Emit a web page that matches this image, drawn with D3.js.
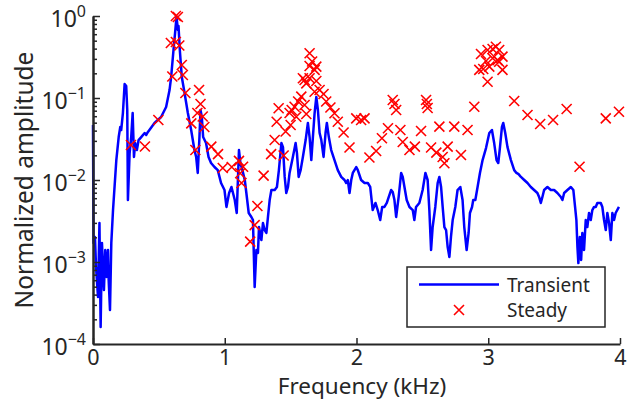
<!DOCTYPE html>
<html>
<head>
<meta charset="utf-8">
<script src="https://cdn.jsdelivr.net/npm/d3@7"></script>
<style>
  html, body { margin: 0; padding: 0; background: #fff; }
</style>
</head>
<body>
<div id="chart"></div>
<script>
// Transient spectrum  [frequency kHz, normalized amplitude]
var transient = [
  [0.000,0.0469],[0.004,0.00171],[0.015,0.00202],[0.023,0.000869],[0.038,0.000374],[0.049,0.00299],
  [0.058,0.000161],[0.068,0.00171],[0.083,0.000456],[0.093,0.0014],[0.104,0.000656],[0.114,0.0014],
  [0.119,0.0006],[0.129,0.00026],[0.139,0.00171],[0.152,0.0043],[0.177,0.0175],[0.195,0.0334],
  [0.207,0.0443],[0.214,0.0407],[0.227,0.0656],[0.240,0.148],[0.252,0.14],[0.260,0.0714],
  [0.265,0.0057],[0.278,0.0213],[0.290,0.0334],[0.301,0.0656],[0.311,0.0191],[0.320,0.0282],
  [0.333,0.0232],[0.346,0.0307],[0.366,0.0334],[0.392,0.0374],[0.404,0.0354],[0.417,0.0385],
  [0.467,0.0496],[0.517,0.0586],[0.555,0.0776],[0.581,0.125],[0.593,0.18],[0.611,0.385],
  [0.623,0.621],[0.634,0.98],[0.644,0.675],[0.649,0.755],[0.659,0.385],[0.674,0.18],
  [0.695,0.115],[0.720,0.0656],[0.745,0.0407],[0.770,0.0232],[0.783,0.0191],[0.795,0.0122],
  [0.808,0.0334],[0.816,0.0714],[0.826,0.0586],[0.836,0.0334],[0.858,0.0282],[0.877,0.0191],
  [0.896,0.0161],[0.922,0.0144],[0.947,0.0132],[0.972,0.00919],[0.998,0.00755],[1.013,0.00469],
  [1.033,0.00694],[1.051,0.00822],[1.076,0.0057],[1.091,0.00396],[1.108,0.0232],[1.119,0.0161],
  [1.134,0.0132],[1.152,0.01],[1.164,0.00694],[1.182,0.00396],[1.202,0.00354],[1.214,0.00325],
  [1.227,0.000496],[1.240,0.0014],[1.252,0.00129],[1.260,0.00267],[1.278,0.00185],[1.290,0.00299],
  [1.303,0.00245],[1.316,0.00226],[1.328,0.00354],[1.341,0.0057],[1.354,0.00755],[1.379,0.00755],
  [1.396,0.00822],[1.411,0.0132],[1.430,0.0282],[1.442,0.0252],[1.455,0.0109],[1.467,0.00694],
  [1.480,0.00822],[1.492,0.0122],[1.517,0.0191],[1.538,0.0282],[1.548,0.0213],[1.561,0.0109],
  [1.576,0.0132],[1.593,0.0191],[1.614,0.0307],[1.631,0.0496],[1.644,0.0334],[1.657,0.0175],
  [1.669,0.0334],[1.682,0.0656],[1.695,0.103],[1.707,0.0714],[1.720,0.0374],[1.733,0.0307],
  [1.750,0.0191],[1.765,0.0374],[1.775,0.0496],[1.790,0.0334],[1.808,0.0232],[1.833,0.0175],
  [1.858,0.0132],[1.884,0.0109],[1.909,0.01],[1.922,0.00919],[1.934,0.01],[1.947,0.00694],
  [1.960,0.01],[1.972,0.0122],[1.998,0.0144],[2.010,0.0132],[2.035,0.01],[2.061,0.00919],
  [2.086,0.00919],[2.104,0.00822],[2.123,0.0043],[2.144,0.00525],[2.161,0.0043],[2.180,0.00325],
  [2.195,0.00469],[2.212,0.00469],[2.230,0.00525],[2.245,0.00621],[2.263,0.00755],[2.275,0.00714],
  [2.288,0.0057],[2.301,0.00354],[2.320,0.00621],[2.339,0.0122],[2.351,0.0109],[2.364,0.00822],
  [2.381,0.0057],[2.402,0.00469],[2.427,0.0043],[2.439,0.00325],[2.452,0.00469],[2.477,0.00525],
  [2.502,0.00755],[2.523,0.0122],[2.540,0.01],[2.553,0.0043],[2.566,0.0014],[2.578,0.00267],
  [2.598,0.00469],[2.616,0.00919],[2.629,0.0109],[2.642,0.00822],[2.654,0.00469],[2.667,0.00267],
  [2.680,0.00245],[2.692,0.00152],[2.705,0.00115],[2.717,0.00202],[2.730,0.00325],[2.750,0.00469],
  [2.767,0.00755],[2.788,0.00822],[2.805,0.0057],[2.818,0.00267],[2.836,0.0014],[2.851,0.00226],
  [2.861,0.00396],[2.877,0.00469],[2.886,0.0057],[2.902,0.0057],[2.919,0.00822],[2.937,0.0122],
  [2.957,0.0175],[2.983,0.0245],[3.008,0.0374],[3.028,0.0407],[3.045,0.0282],[3.063,0.0175],
  [3.076,0.0161],[3.089,0.0252],[3.104,0.0443],[3.114,0.0496],[3.129,0.0374],[3.146,0.0252],
  [3.172,0.0175],[3.197,0.0132],[3.214,0.0122],[3.230,0.0118],[3.248,0.0109],[3.273,0.01],
  [3.298,0.00919],[3.323,0.00822],[3.348,0.00755],[3.373,0.00694],[3.386,0.00621],[3.399,0.00525],
  [3.411,0.00621],[3.424,0.00755],[3.449,0.00822],[3.475,0.00755],[3.500,0.00755],[3.525,0.00694],
  [3.551,0.00621],[3.563,0.0057],[3.576,0.00694],[3.601,0.00755],[3.627,0.00822],[3.646,0.00755],
  [3.659,0.00469],[3.669,0.00325],[3.677,0.00152],[3.684,0.00097],[3.695,0.00202],[3.705,0.00106],
  [3.714,0.00226],[3.727,0.0014],[3.740,0.00325],[3.752,0.00267],[3.765,0.00396],[3.778,0.00325],
  [3.790,0.0043],[3.803,0.00469],[3.816,0.00469],[3.828,0.00525],[3.854,0.00525],[3.866,0.00469],
  [3.879,0.00325],[3.892,0.00245],[3.904,0.00396],[3.917,0.00299],[3.930,0.00185],[3.942,0.00396],
  [3.955,0.00325],[3.967,0.00396],[3.992,0.00469]
];

// Steady-state points  [frequency kHz, normalized amplitude]
var steady = [
  [0.288,0.0267],[0.394,0.0256],[0.496,0.0539],[0.629,1.0],[0.644,0.972],[0.591,0.469],
  [0.629,0.482],[0.655,0.437],[0.674,0.253],[0.602,0.183],[0.682,0.191],[0.701,0.115],
  [0.805,0.125],[0.816,0.0845],[0.792,0.0656],[0.833,0.0595],[0.845,0.0443],[0.746,0.0491],
  [0.777,0.0232],[0.898,0.0255],[0.949,0.0207],[0.985,0.014],[1.053,0.0144],[1.108,0.0171],
  [1.139,0.0145],[1.117,0.0121],[1.127,0.00919],[1.248,0.00482],[1.227,0.00282],[1.193,0.00177],
  [1.295,0.0113],[1.352,0.0207],[1.379,0.0307],[1.394,0.0514],[1.409,0.0749],[1.447,0.0199],
  [1.462,0.039],[1.500,0.0469],[1.492,0.0656],[1.508,0.0714],[1.530,0.0783],[1.543,0.0591],
  [1.557,0.0906],[1.581,0.104],[1.606,0.166],[1.619,0.151],[1.593,0.174],[1.644,0.174],
  [1.644,0.246],[1.682,0.22],[1.695,0.161],[1.663,0.279],[1.644,0.351],[1.695,0.241],
  [1.619,0.0638],[1.606,0.0822],[1.682,0.119],[1.720,0.125],[1.750,0.112],[1.770,0.0906],
  [1.802,0.0766],[1.833,0.0651],[1.858,0.0514],[1.902,0.038],[1.947,0.0249],[1.998,0.0565],
  [2.035,0.0539],[2.061,0.0565],[2.098,0.0188],[2.149,0.0226],[2.193,0.0323],[2.239,0.0427],
  [2.275,0.0946],[2.288,0.0845],[2.301,0.0714],[2.333,0.0407],[2.351,0.0291],[2.402,0.0232],
  [2.443,0.0255],[2.490,0.0396],[2.528,0.0946],[2.534,0.0845],[2.540,0.0755],[2.566,0.0249],
  [2.606,0.0216],[2.629,0.0447],[2.654,0.0191],[2.667,0.016],[2.692,0.0255],[2.742,0.0447],
  [2.793,0.0202],[2.843,0.0407],[2.894,0.0783],[2.932,0.22],[2.945,0.344],[2.983,0.283],
  [2.995,0.385],[3.033,0.396],[3.058,0.422],[3.083,0.385],[3.033,0.305],[3.070,0.29],
  [3.083,0.277],[3.108,0.319],[3.008,0.241],[2.962,0.226],[3.108,0.22],[2.995,0.158],
  [3.197,0.0919],[3.298,0.062],[3.394,0.0482],[3.492,0.0539],[3.595,0.0734],[3.693,0.0145],
  [3.892,0.0565],[3.992,0.068]
];

var xTickValues = [0, 1, 2, 3, 4];
var yTickExponents = [-4, -3, -2, -1, 0];
var legendLabels = ['Transient', 'Steady'];
var xAxisTitle = 'Frequency (kHz)';
var yAxisTitle = 'Normalized amplitude';

d3.selection.prototype.patternify = function (params) {
    var container = this;
    var selector = params.selector;
    var data = params.data || [selector];
    var selection = container.selectAll('.' + selector).data(data);
    selection.exit().remove();
    selection = selection.enter().append(params.tag).merge(selection);
    selection.attr('class', selector);
    return selection;
};

function SpectrumChart() {
    var attrs = {
        svgWidth: 638,
        svgHeight: 405,
        marginTop: 16,
        marginLeft: 93,
        marginRight: 18,
        marginBottom: 61,
        container: '#chart',
        defaultFont: "'Noto Sans', 'DejaVu Sans', sans-serif",
        textFill: '#262626',
        axisColor: '#262626',
        lineColor: '#0000ff',
        markerColor: '#ff0000'
    };

    var main = function (selection) {
        selection.each(function scope() {
            var container = d3.select(this);

            var calc = {};
            calc.chartWidth = attrs.svgWidth - attrs.marginLeft - attrs.marginRight;
            calc.chartHeight = attrs.svgHeight - attrs.marginTop - attrs.marginBottom;

            /*##################################   SCALES  ####################################### */
            var x = d3.scaleLinear().domain([0, 4]).range([0, calc.chartWidth]);
            var y = d3.scaleLog().domain([1e-4, 1]).range([calc.chartHeight, 0]);

            var majorY = yTickExponents.map(e => Math.pow(10, e));
            var minorY = [];
            yTickExponents.slice(0, -1).forEach(e => {
                for (var k = 2; k < 10; k++) minorY.push(k * Math.pow(10, e));
            });

            var line = d3.line().x(d => x(d[0])).y(d => y(d[1]));

            //################################ DRAWING ######################
            var svg = container.patternify({ tag: 'svg', selector: 'svg-chart-container' })
                .attr('width', attrs.svgWidth)
                .attr('height', attrs.svgHeight)
                .attr('font-family', attrs.defaultFont)
                .style('background', '#fff');

            var chart = svg.patternify({ tag: 'g', selector: 'chart' })
                .attr('transform', 'translate(' + attrs.marginLeft + ',' + attrs.marginTop + ')');

            // data
            chart.patternify({ tag: 'path', selector: 'transient-line', data: [transient] })
                .attr('d', line)
                .attr('fill', 'none')
                .attr('stroke', attrs.lineColor)
                .attr('stroke-width', 2.5)
                .attr('stroke-linejoin', 'round');

            chart.patternify({ tag: 'path', selector: 'steady-mark', data: steady })
                .attr('transform', d => 'translate(' + x(d[0]) + ',' + y(d[1]) + ')')
                .attr('d', 'M-5,-5L5,5M-5,5L5,-5')
                .attr('fill', 'none')
                .attr('stroke', attrs.markerColor)
                .attr('stroke-width', 1.6);

            // axes
            var xAxis = d3.axisBottom(x)
                .tickValues(xTickValues)
                .tickFormat(d3.format('d'))
                .tickSize(-6)
                .tickSizeOuter(0)
                .tickPadding(6);
            var xAxisG = chart.patternify({ tag: 'g', selector: 'x-axis' })
                .attr('transform', 'translate(0,' + calc.chartHeight + ')')
                .call(xAxis);
            xAxisG.selectAll('text')
                .attr('font-size', 21.5)
                .attr('fill', attrs.textFill)
                .attr('font-family', attrs.defaultFont);

            chart.patternify({ tag: 'g', selector: 'y-minor' })
                .call(d3.axisLeft(y).tickValues(minorY).tickSize(-4).tickSizeOuter(0).tickFormat(''));
            chart.patternify({ tag: 'g', selector: 'y-axis' })
                .call(d3.axisLeft(y).tickValues(majorY).tickSize(-7).tickSizeOuter(0).tickFormat(''));

            chart.selectAll('.domain').attr('stroke', attrs.axisColor).attr('stroke-width', 2);
            chart.selectAll('.tick line').attr('stroke', attrs.axisColor).attr('stroke-width', 1.5);

            // y tick labels with superscript exponents
            var yLabels = chart.patternify({ tag: 'text', selector: 'y-tick-label', data: yTickExponents })
                .attr('x', -7)
                .attr('y', d => y(Math.pow(10, d)) + 11)
                .attr('text-anchor', 'end')
                .attr('fill', attrs.textFill)
                .attr('font-size', 23);
            yLabels.selectAll('tspan').remove();
            yLabels.append('tspan').text('10');
            yLabels.append('tspan')
                .attr('dy', -10)
                .attr('font-size', 16)
                .text(d => d < 0 ? '\u2212' + Math.abs(d) : String(d));

            // axis titles
            svg.patternify({ tag: 'text', selector: 'x-title' })
                .attr('x', 362)
                .attr('y', 394)
                .attr('text-anchor', 'middle')
                .attr('font-size', 22.5)
                .attr('fill', attrs.textFill)
                .text(xAxisTitle);

            svg.patternify({ tag: 'text', selector: 'y-title' })
                .attr('transform', 'translate(33,' + (attrs.marginTop + calc.chartHeight / 2) + ') rotate(-90)')
                .attr('text-anchor', 'middle')
                .attr('font-size', 24.5)
                .attr('fill', attrs.textFill)
                .text(yAxisTitle);

            // legend
            var legend = chart.patternify({ tag: 'g', selector: 'legend' })
                .attr('transform', 'translate(' + (calc.chartWidth - 213) + ',' + (calc.chartHeight - 77) + ')');

            legend.patternify({ tag: 'rect', selector: 'legend-box' })
                .attr('width', 198)
                .attr('height', 60)
                .attr('fill', '#fff')
                .attr('stroke', attrs.axisColor)
                .attr('stroke-width', 1.5);

            legend.patternify({ tag: 'line', selector: 'legend-line' })
                .attr('x1', 12).attr('x2', 92)
                .attr('y1', 17.5).attr('y2', 17.5)
                .attr('stroke', attrs.lineColor)
                .attr('stroke-width', 2.5);

            legend.patternify({ tag: 'path', selector: 'legend-mark' })
                .attr('transform', 'translate(52,43)')
                .attr('d', 'M-5,-5L5,5M-5,5L5,-5')
                .attr('stroke', attrs.markerColor)
                .attr('stroke-width', 1.6);

            legend.patternify({ tag: 'text', selector: 'legend-text', data: legendLabels })
                .attr('x', 100)
                .attr('y', (d, i) => 24.5 + i * 25)
                .attr('font-size', 19)
                .attr('fill', attrs.textFill)
                .text(d => d);
        });
    };

    main.run = function () {
        d3.selectAll(attrs.container).call(main);
        return main;
    };

    return main;
}

SpectrumChart().run();
</script>
</body>
</html>
